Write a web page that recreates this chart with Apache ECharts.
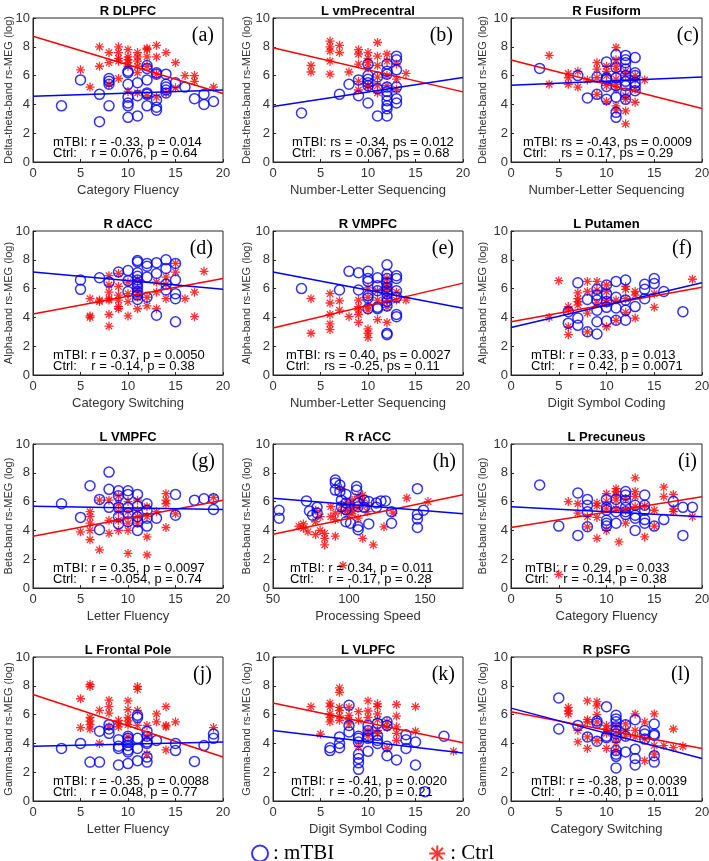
<!DOCTYPE html>
<html><head><meta charset="utf-8">
<script src="https://cdn.jsdelivr.net/npm/echarts@6/dist/echarts.min.js"></script>
<style>html,body{margin:0;padding:0;background:#fff;}#c{width:709px;height:861px;}</style>
</head><body><div id="c"></div>
<script>
// ---------- texts ----------
const panelTitles = ['R DLPFC','L vmPrecentral','R Fusiform','R dACC','R VMPFC','L Putamen','L VMPFC','R rACC','L Precuneus','L Frontal Pole','L VLPFC','R pSFG'];
const panelLetters = ['(a)','(b)','(c)','(d)','(e)','(f)','(g)','(h)','(i)','(j)','(k)','(l)'];
const xNames = ['Category Fluency','Number-Letter Sequencing','Number-Letter Sequencing','Category Switching','Number-Letter Sequencing','Digit Symbol Coding','Letter Fluency','Processing Speed','Category Fluency','Letter Fluency','Digit Symbol Coding','Category Switching'];
const yNames = ['Delta-theta-band rs-MEG (log)','Alpha-band rs-MEG (log)','Beta-band rs-MEG (log)','Gamma-band rs-MEG (log)'];
const statMtbi = ['mTBI: r = -0.33, p = 0.014','mTBI: rs = -0.34, ps = 0.012','mTBI: rs = -0.43, ps = 0.0009','mTBI: r = 0.37, p = 0.0050','mTBI: rs = 0.40, ps = 0.0027','mTBI: r = 0.33, p = 0.013','mTBI: r = 0.35, p = 0.0097','mTBI: r = 0.34, p = 0.011','mTBI: r = 0.29, p = 0.033','mTBI: r = -0.35, p = 0.0088','mTBI: r = -0.41, p = 0.0020','mTBI: r = -0.38, p = 0.0039'];
const statCtrl = ['Ctrl:    r = 0.076, p = 0.64','Ctrl:    rs = 0.067, ps = 0.68','Ctrl:    rs = 0.17, ps = 0.29','Ctrl:    r = -0.14, p = 0.38','Ctrl:    rs = -0.25, ps = 0.11','Ctrl:    r = 0.42, p = 0.0071','Ctrl:    r = -0.054, p = 0.74','Ctrl:    r = -0.17, p = 0.28','Ctrl:    r = -0.14, p = 0.38','Ctrl:    r = 0.048, p = 0.77','Ctrl:    r = -0.20, p = 0.21','Ctrl:    r = -0.40, p = 0.011'];
const legendNames = ['mTBI','Ctrl'];

// ---------- axes ----------
const xMin = [0,0,0,0,0,0,0,50,0,0,0,0];
const xMax = [20,20,20,20,20,20,20,175,20,20,20,20];
const xStep = [5,5,5,5,5,5,5,50,5,5,5,5];
const yMin = 0, yMax = 10, yStep = 2;

// ---------- fitted lines: value at x-min and x-max ----------
const fitMtbi = [[4.57,5.0],[3.86,5.86],[5.33,5.9],[7.16,5.96],[7.15,4.64],[3.3,6.4],[5.68,5.45],[6.24,5.15],[5.64,4.94],[3.8,4.1],[4.9,3.33],[6.45,2.95]];
const fitCtrl = [[8.73,4.76],[7.93,4.87],[7.08,3.72],[4.23,6.7],[3.27,6.38],[3.7,6.1],[3.6,6.1],[3.74,6.47],[4.2,6.33],[7.4,3.05],[6.8,4.05],[6.2,3.65]];

// ---------- points ----------
const mtbiA = [[3,3.9],[5,5.7],[7,4.7],[7,2.8],[8,5.8],[8,5.6],[8,5.4],[8,3.9],[10,6.3],[10,6.2],[10,5.4],[10,4.5],[10,4.1],[10,3.9],[10,3.1],[11,5.5],[11,4.6],[11,3.2],[12,6.7],[12,6.5],[12,5.7],[12,4.8],[12,4.7],[12,3.9],[13,6.2],[13,6.1],[13,4.3],[13,3.8],[13,3.6],[14,6.1],[14,5.4],[14,5.2],[14,5.0],[14,4.8],[15,5.5],[16,5.2],[17,4.4],[18,4.7],[18,4.0],[19,4.2]];
const ctrlA = [[5,6.4],[6,5.2],[7,8.0],[7,6.65],[8,7.6],[8,6.9],[8,5.4],[9,8.0],[9,7.6],[9,7.2],[9,7.0],[9,5.8],[10,7.8],[10,7.3],[10,7.1],[10,6.9],[10,6.65],[10,4.9],[11,7.6],[11,7.3],[11,7.0],[11,6.65],[11,6.2],[11,4.8],[12,7.9],[12,7.8],[12,7.3],[12,6.65],[12,4.6],[13,8.1],[13,7.3],[13,6.1],[13,4.5],[14,7.6],[14,4.8],[15,6.9],[15,5.15],[16,6.0],[17,6.0],[17,5.6],[19,5.2]];
const mtbiB = [[3,3.4],[7,4.7],[8,5.4],[9,5.7],[9,4.6],[10,6.8],[10,6.0],[10,5.75],[10,5.5],[10,5.3],[10,4.1],[11,5.9],[11,5.1],[11,3.2],[12,6.8],[12,6.3],[12,6.1],[12,5.2],[12,4.9],[12,4.6],[12,4.25],[12,3.9],[12,3.7],[12,3.2],[13,7.35],[13,7.1],[13,6.4],[13,5.2],[13,4.4],[13,4.1]];
const ctrlB = [[4,6.7],[4,6.25],[6,8.4],[6,8.0],[6,7.7],[6,7.0],[6,6.1],[7,8.1],[7,7.6],[8,6.25],[9,7.8],[9,7.5],[9,6.8],[9,5.6],[9,5.0],[10,7.6],[10,7.2],[10,6.9],[10,6.55],[10,5.3],[10,5.25],[11,8.3],[11,7.35],[11,6.7],[11,5.9],[11,5.3],[11,4.8],[12,7.5],[12,7.0],[12,6.0],[12,5.3],[13,6.8],[13,5.75],[13,5.05],[14,6.15]];
const mtbiC = [[3,6.5],[7,6.0],[8,4.45],[9,5.9],[9,4.7],[10,6.95],[10,5.85],[10,5.75],[10,5.25],[10,4.35],[11,7.45],[11,6.55],[11,5.85],[11,5.3],[11,4.5],[11,3.45],[11,3.1],[12,7.4],[12,7.1],[12,6.9],[12,6.45],[12,6.0],[12,5.6],[12,5.3],[12,4.8],[12,4.35],[13,7.25],[13,6.2],[13,6.0],[13,5.5],[13,5.25],[13,4.95]];
const ctrlC = [[4,7.4],[4,5.4],[6,6.15],[6,5.85],[6,5.4],[7,6.3],[7,5.2],[8,5.7],[9,6.9],[9,6.45],[9,5.85],[9,4.7],[10,6.65],[10,6.3],[10,6.0],[10,5.3],[10,4.2],[11,7.95],[11,7.1],[11,6.65],[11,6.3],[11,5.75],[11,5.4],[11,5.05],[11,3.9],[11,3.6],[12,6.3],[12,6.0],[12,4.6],[12,4.35],[12,3.55],[12,2.65],[13,6.0],[13,5.75],[13,5.05],[13,4.15],[14,5.7]];
const mtbiD = [[5,6.6],[5,5.95],[7,6.75],[8,6.45],[9,7.15],[10,7.25],[10,6.55],[10,5.8],[11,7.95],[11,7.85],[11,7.1],[11,6.85],[11,6.6],[11,6.35],[11,6.1],[11,5.8],[11,5.55],[11,5.25],[12,7.75],[12,7.55],[12,6.8],[12,5.4],[13,7.8],[13,7.05],[13,4.15],[14,8.0],[14,7.4],[14,6.3],[14,5.9],[15,7.75],[15,6.6],[15,5.65],[15,5.3],[15,3.7]];
const ctrlD = [[6,5.3],[6,4.1],[6,4.0],[7,5.2],[7,5.1],[8,6.9],[8,6.25],[8,5.75],[8,5.3],[8,5.2],[8,4.2],[8,3.4],[9,7.05],[9,6.15],[9,5.55],[9,5.2],[9,4.75],[9,4.6],[10,6.45],[10,5.65],[10,5.1],[10,4.1],[11,6.6],[11,6.0],[11,5.75],[11,5.4],[11,4.6],[12,5.4],[12,4.8],[13,6.45],[13,5.75],[13,4.6],[14,6.8],[14,6.3],[14,5.3],[15,7.75],[15,7.15],[16,5.3],[17,5.75],[17,4.05],[18,7.2]];
const mtbiE = [[3,6.0],[7,5.9],[8,7.2],[9,7.1],[9,5.9],[10,7.2],[10,6.7],[10,6.5],[10,5.5],[10,5.35],[10,4.6],[11,6.75],[11,6.2],[11,5.85],[11,4.7],[11,4.6],[12,7.65],[12,7.0],[12,6.7],[12,6.4],[12,6.1],[12,5.85],[12,5.65],[12,5.35],[12,5.1],[12,4.8],[12,2.9],[12,2.8],[13,6.9],[13,6.7],[13,5.85],[13,5.4],[13,4.2],[13,4.05]];
const ctrlE = [[4,5.3],[4,2.9],[6,5.65],[6,5.0],[6,4.2],[6,3.55],[6,3.15],[7,5.15],[7,4.5],[8,4.05],[9,5.2],[9,4.75],[9,4.5],[9,4.2],[9,3.65],[10,6.05],[10,5.4],[10,4.8],[10,4.5],[10,3.2],[10,2.9],[10,2.6],[11,5.85],[11,5.2],[11,3.85],[12,6.7],[12,6.3],[12,6.0],[12,5.65],[12,5.15],[12,4.7],[12,3.65],[13,5.75],[13,5.2],[14,5.2]];
const mtbiF = [[6,4.4],[6,3.6],[7,6.4],[7,3.95],[7,3.45],[8,5.25],[8,3.0],[9,5.95],[9,5.55],[9,5.2],[9,4.5],[9,3.7],[9,2.85],[10,6.25],[10,5.65],[10,5.1],[10,4.7],[10,3.75],[11,6.5],[11,5.4],[11,4.65],[11,3.8],[12,6.6],[12,5.2],[12,4.5],[12,3.8],[13,4.75],[14,6.3],[14,5.95],[14,5.3],[15,6.7],[15,6.35],[16,5.8],[18,4.4]];
const ctrlF = [[4,4.0],[5,6.55],[6,4.75],[6,4.5],[6,3.35],[6,2.8],[7,5.7],[7,5.3],[7,5.1],[7,4.85],[8,6.5],[8,5.8],[8,4.3],[8,3.0],[9,6.5],[9,5.9],[9,5.0],[10,6.25],[10,5.8],[10,5.2],[10,5.0],[10,3.35],[11,5.2],[11,3.8],[12,6.15],[12,5.95],[12,5.3],[12,4.35],[13,5.8],[13,5.55],[13,3.95],[15,5.65],[15,4.7],[19,6.65]];
const mtbiG = [[3,5.85],[5,4.9],[6,7.1],[7,6.15],[7,4.05],[8,8.05],[8,6.85],[8,5.6],[9,6.75],[9,6.4],[9,5.6],[9,4.95],[9,4.45],[10,6.75],[10,6.5],[10,5.6],[10,5.2],[10,4.6],[11,6.5],[11,5.7],[11,4.95],[11,4.6],[11,4.0],[12,5.85],[12,5.4],[12,4.85],[12,4.3],[13,4.85],[15,6.5],[15,5.05],[17,6.1],[18,6.2],[19,6.2],[19,5.45]];
const ctrlG = [[5,3.9],[6,5.3],[6,4.95],[6,4.5],[6,4.0],[6,3.35],[7,6.1],[7,2.65],[8,6.1],[8,4.7],[8,3.8],[9,6.4],[9,5.85],[9,5.3],[9,4.7],[9,4.0],[10,6.0],[10,5.3],[10,4.5],[10,4.0],[10,2.4],[11,6.1],[11,5.4],[11,4.95],[11,4.5],[12,5.65],[12,4.95],[12,3.55],[12,2.3],[13,5.3],[14,6.55],[14,6.1],[14,5.85],[14,4.2],[15,5.15],[19,6.3]];
const mtbiH = [[54,5.4],[54,4.85],[72,6.05],[74,5.35],[76,5.05],[79,5.6],[79,5.2],[91,7.5],[91,7.3],[91,6.8],[94,7.15],[94,6.7],[95,6.1],[95,5.65],[98,6.5],[98,5.9],[98,5.45],[98,4.6],[101,4.5],[105,7.05],[105,6.8],[106,5.9],[106,5.65],[106,4.25],[106,4.05],[110,6.1],[110,5.6],[113,6.0],[113,4.45],[118,5.9],[118,5.6],[121,6.05],[124,6.05],[128,5.3],[128,4.5],[145,6.9],[145,5.1],[145,4.8],[145,4.2],[149,5.4]];
const ctrlH = [[67,4.3],[70,4.45],[70,4.15],[73,3.9],[78,5.4],[78,4.6],[78,3.7],[81,4.95],[81,4.0],[84,3.8],[84,3.45],[84,3.0],[88,5.65],[88,4.95],[91,5.2],[91,4.75],[91,3.6],[95,6.9],[95,5.75],[95,5.3],[96,1.57],[99,5.9],[99,5.4],[99,5.1],[102,6.1],[102,5.75],[102,5.4],[102,5.15],[106,6.35],[106,5.55],[106,4.85],[109,6.45],[109,6.1],[109,3.45],[112,5.75],[112,5.3],[116,3.0],[123,4.25],[129,5.2],[138,6.25],[152,6.0]];
const mtbiI = [[3,7.15],[5,4.3],[7,6.6],[7,3.65],[8,6.15],[8,5.75],[8,5.3],[8,4.25],[10,6.15],[10,5.6],[10,5.4],[10,4.7],[10,4.5],[10,4.3],[11,6.15],[11,5.3],[11,4.5],[12,6.7],[12,6.45],[12,6.1],[12,5.6],[12,5.3],[12,5.1],[13,5.75],[13,5.05],[13,4.85],[13,4.0],[14,6.45],[14,5.75],[14,5.4],[14,4.75],[14,4.5],[15,4.3],[16,4.75],[17,6.0],[18,5.6],[18,3.65],[19,5.6]];
const ctrlI = [[5,0.95],[6,6.0],[7,5.85],[7,5.2],[8,4.95],[8,4.25],[9,5.9],[9,5.7],[9,4.9],[9,3.45],[10,6.55],[10,6.0],[10,5.5],[10,4.0],[11,6.9],[11,6.7],[11,6.45],[11,6.1],[11,5.5],[11.3,3.2],[12,6.2],[12,5.4],[12,4.5],[13,7.65],[13,6.7],[13,6.35],[13,5.65],[14,5.7],[14,3.55],[15,5.4],[15,4.3],[16,7.0],[16,6.35],[17,6.5],[17,5.5],[17,5.3],[19,4.95]];
const mtbiJ = [[3,3.65],[5,4.0],[6,2.7],[7,4.85],[7,2.7],[8,5.3],[8,5.0],[8,4.7],[9,4.25],[9,3.8],[9,3.65],[9,2.5],[10,4.5],[10,4.35],[10,4.1],[10,3.85],[10,3.55],[10,3.4],[10,2.6],[11,5.95],[11,5.8],[11,4.35],[11,3.65],[11,2.8],[12,4.85],[12,4.5],[12,4.1],[12,4.0],[12,3.05],[12,2.7],[13,4.2],[15,4.0],[15,3.5],[17,2.75],[18,3.85],[19,4.65],[19,4.35]];
const ctrlJ = [[5,7.1],[5,5.1],[6,8.1],[6,7.95],[6,5.8],[6,5.55],[6,5.3],[6,5.0],[7,6.3],[7,4.0],[8,7.0],[8,6.55],[8,6.1],[8,5.15],[9,5.6],[9,5.35],[9,5.15],[10,6.95],[10,6.35],[10,5.8],[10,5.55],[10,5.3],[10,4.45],[11,7.95],[11,7.75],[11,6.3],[11,5.25],[12,5.25],[12,4.5],[12,3.25],[13,6.05],[13,5.5],[14,6.55],[14,5.25],[14,5.15],[14,3.55],[15,5.5],[19,5.1]];
const mtbiK = [[6,3.7],[6,3.5],[7,4.45],[7,4.0],[7,3.7],[8,6.65],[8,5.25],[8,4.8],[9,4.5],[9,4.35],[9,4.1],[9,3.25],[9,2.95],[9,2.65],[9,2.2],[10,5.25],[10,4.9],[10,4.55],[10,4.35],[10,3.45],[11,5.4],[11,4.55],[11,4.2],[11,4.0],[12,5.5],[12,5.25],[12,3.8],[12,3.15],[13,2.85],[14,4.6],[14,4.25],[14,3.65],[15,4.1],[15,2.5],[16,0.65],[18,4.5]];
const ctrlK = [[4,6.55],[5,4.65],[6,6.8],[6,6.55],[6,6.05],[6,5.8],[6,5.5],[7,7.85],[7,7.55],[7,6.5],[7,6.3],[7,5.9],[7,5.6],[8,6.5],[8,5.95],[8,5.65],[8,5.35],[9,6.2],[9,5.6],[9,3.8],[10,6.95],[10,6.25],[10,5.8],[10,4.9],[10,4.5],[11,6.75],[11,6.55],[11,6.05],[11,5.65],[11,4.9],[11,4.7],[12,5.5],[12,5.1],[12,3.65],[13,6.7],[13,5.9],[13,5.15],[13,4.7],[13,4.2],[15,6.55],[15,4.85],[19,3.45]];
const mtbiL = [[5,7.15],[5,5.0],[7,5.25],[8,4.45],[9,5.55],[9,5.4],[9,4.15],[10,6.55],[10,4.5],[10,4.4],[11,5.95],[11,5.7],[11,5.5],[11,5.15],[11,4.9],[11,4.65],[11,4.4],[11,3.5],[11,3.25],[11,3.1],[11,2.3],[12,5.3],[12,4.5],[12,3.4],[13,5.65],[13,3.6],[13,2.95],[13,2.5],[14,4.9],[14,4.65],[14,4.3],[15,5.35],[15,4.65],[15,4.55],[15,3.15],[15,2.7]];
const ctrlL = [[6,6.5],[6,6.25],[6,6.05],[7,4.9],[7,4.1],[8,6.95],[8,5.65],[8,5.5],[8,4.45],[8,3.65],[9,6.9],[9,6.6],[9,6.0],[9,5.5],[9,4.2],[10,5.25],[10,5.0],[10,4.7],[10,3.65],[11,5.15],[11,4.45],[11,4.05],[11,3.5],[12,5.35],[12,4.9],[12,4.5],[13,6.05],[13,4.9],[13,4.45],[14,5.5],[14,4.3],[14,2.8],[15,6.05],[15,3.85],[15,3.25],[16,3.85],[17,5.0],[17,3.7],[18,3.8]];

const mtbiSets = [mtbiA,mtbiB,mtbiC,mtbiD,mtbiE,mtbiF,mtbiG,mtbiH,mtbiI,mtbiJ,mtbiK,mtbiL];
const ctrlSets = [ctrlA,ctrlB,ctrlC,ctrlD,ctrlE,ctrlF,ctrlG,ctrlH,ctrlI,ctrlJ,ctrlK,ctrlL];

// ---------- layout / style ----------
const colLeft = [33, 273, 511], colW = [190, 190, 191];
const rowTop = [18, 231, 444, 657], plotH = 144;
const yNameGap = [19, 21, 23];
const statOffset = [20,19,12,20,13,20,20,17,14,20,18,20];
const letterOffset = [9,10,3,10,9,10,8,7,5,11,8,12];
const SANS = '"Liberation Sans", Arial, Helvetica, sans-serif';
const SERIF = '"Liberation Serif", "Times New Roman", serif';
const BLUE = '#0000ff', RED = '#ff0000', AX = '#262626';
const STAR = 'path://M0,-1L0,1M-1,0L1,0M-0.71,-0.71L0.71,0.71M-0.71,0.71L0.71,-0.71';

const chart = echarts.init(document.getElementById('c'), null, {renderer: 'canvas'});
const option = {
  animation: false, backgroundColor: '#ffffff',
  grid: [], xAxis: [], yAxis: [], series: [],
  graphic: {elements: []},
  legend: {
    data: [
      {name: legendNames[0], icon: 'circle', itemStyle: {color: 'transparent', borderColor: BLUE, borderWidth: 2}},
      {name: legendNames[1], icon: STAR, itemStyle: {color: 'transparent', borderColor: RED, borderWidth: 2}}
    ],
    left: 251, top: 843, padding: 0, itemWidth: 16, itemHeight: 16, itemGap: 94,
    selectedMode: false, formatter: ': {name}',
    textStyle: {fontFamily: SERIF, fontSize: 21, color: '#000'}
  }
};

function txt(x, y, text, font, fill, align, valign) {
  return {type: 'text', x: x, y: y, silent: true, z: 1,
    style: {text: text, font: font, fill: fill, align: align, verticalAlign: valign, textAlign: align, textVerticalAlign: valign}};
}

for (let i = 0; i < 12; i++) {
  const r = Math.floor(i / 3), c = i % 3;
  const left = colLeft[c], top = rowTop[r], w = colW[c], h = plotH;
  option.grid.push({left: left, top: top, width: w, height: h, containLabel: false, outerBoundsMode: 'none',
    show: true, borderColor: AX, borderWidth: 1, backgroundColor: 'transparent'});
  option.xAxis.push({
    gridIndex: i, type: 'value', min: xMin[i], max: xMax[i], interval: xStep[i],
    name: xNames[i], nameLocation: 'middle', nameGap: 22, nameMoveOverlap: false,
    nameTextStyle: {fontFamily: SANS, fontSize: 13, color: '#333'},
    axisLine: {show: true, onZero: false, lineStyle: {color: AX, width: 1}},
    axisTick: {show: true, inside: true, length: 3, lineStyle: {color: AX}},
    axisLabel: {fontFamily: SANS, fontSize: 13, color: '#333', margin: 5, showMaxLabel: xMax[i] % xStep[i] === 0},
    splitLine: {show: false}
  });
  option.yAxis.push({
    gridIndex: i, type: 'value', min: yMin, max: yMax, interval: yStep,
    name: yNames[r], nameLocation: 'middle', nameGap: yNameGap[c], nameMoveOverlap: false,
    nameTextStyle: {fontFamily: SANS, fontSize: 11, color: '#333'},
    axisLine: {show: true, onZero: false, lineStyle: {color: AX, width: 1}},
    axisTick: {show: true, inside: true, length: 3, lineStyle: {color: AX}},
    axisLabel: {fontFamily: SANS, fontSize: 13, color: '#333', margin: 3},
    splitLine: {show: false}
  });
  option.series.push({
    name: legendNames[0], type: 'scatter', xAxisIndex: i, yAxisIndex: i, data: mtbiSets[i],
    symbol: 'circle', symbolSize: 10, z: 3,
    itemStyle: {color: 'transparent', borderColor: BLUE, borderWidth: 1.5},
    emphasis: {disabled: true}
  });
  option.series.push({
    name: legendNames[1], type: 'scatter', xAxisIndex: i, yAxisIndex: i, data: ctrlSets[i],
    symbol: STAR, symbolSize: 9, z: 2,
    itemStyle: {color: 'transparent', borderColor: RED, borderWidth: 1.3},
    emphasis: {disabled: true}
  });
  option.series.push({
    name: 'Ctrl fit', type: 'line', xAxisIndex: i, yAxisIndex: i, z: 4,
    data: [[xMin[i], fitCtrl[i][0]], [xMax[i], fitCtrl[i][1]]],
    symbol: 'none', lineStyle: {color: RED, width: 1.5}, emphasis: {disabled: true}
  });
  option.series.push({
    name: 'mTBI fit', type: 'line', xAxisIndex: i, yAxisIndex: i, z: 4,
    data: [[xMin[i], fitMtbi[i][0]], [xMax[i], fitMtbi[i][1]]],
    symbol: 'none', lineStyle: {color: BLUE, width: 1.5}, emphasis: {disabled: true}
  });
  const g = option.graphic.elements;
  g.push(txt(left + w / 2, top - 6.5, panelTitles[i], 'bold 13px ' + SANS, '#000', 'center', 'middle'));
  g.push(txt(left + w - letterOffset[i], top + 18, panelLetters[i], '20px ' + SERIF, '#000', 'right', 'middle'));
  g.push(txt(left + statOffset[i], top + 124.5, statMtbi[i], '13px ' + SANS, '#000', 'left', 'middle'));
  g.push(txt(left + statOffset[i], top + 135.5, statCtrl[i], '13px ' + SANS, '#000', 'left', 'middle'));
}
chart.setOption(option);
</script>
</body></html>
